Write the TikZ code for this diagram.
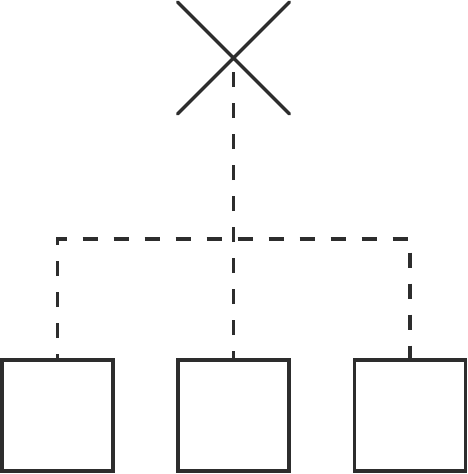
\documentclass[tikz,border=0pt]{standalone}
\usepackage{tikz}
\usetikzlibrary{shapes.misc}

\definecolor{linegray}{HTML}{2D2D2D}

\begin{document}
\begin{tikzpicture}[x=1pt,y=-1pt,line width=3.2pt,draw=linegray,
                    leaf node/.style={rectangle,draw=linegray,outer sep=0pt,minimum width=111pt,minimum height=111pt},
                    root node/.style={cross out,draw=linegray,line cap=round,outer sep=0pt,minimum size=112pt},
                    link/.style={draw=linegray,dash pattern=on 15pt off 16pt}]
  \useasboundingbox (0,0) rectangle (468,474);

  \node[root node] (root) at (233.5,58) {};
  \node[leaf node] (left) at (57.5,415.5) {};
  \node[leaf node] (mid) at (233.5,415.5) {};
  \node[leaf node] (right) at (410,415.5) {};
  \coordinate (split) at (233.5,239);

  % dashed tree links
  \path[link,dash phase=9pt] (left.north) -- (left.north |- split) -- (right.north |- split) -- (right.north);
  \path[link,dash phase=6pt] (mid.north) -- (split) -- (root.center);
\end{tikzpicture}
\end{document}
